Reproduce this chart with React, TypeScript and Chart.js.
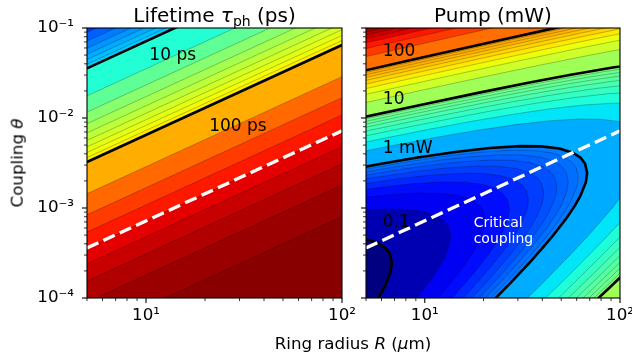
import React, { useEffect, useRef } from 'react';
import { Chart, registerables } from 'chart.js';

Chart.register(...registerables);

// ---------------- axes ----------------
const R_MIN = 5;
const R_MAX = 100;
const THETA_MIN = 1e-4;
const THETA_MAX = 0.1;
const radiusTicks = [5, 6, 7, 8, 9, 10, 20, 30, 40, 50, 60, 70, 80, 90, 100];
const couplingTicks = [
  1e-4, 2e-4, 3e-4, 4e-4, 5e-4, 6e-4, 7e-4, 8e-4, 9e-4,
  1e-3, 2e-3, 3e-3, 4e-3, 5e-3, 6e-3, 7e-3, 8e-3, 9e-3,
  1e-2, 2e-2, 3e-2, 4e-2, 5e-2, 6e-2, 7e-2, 8e-2, 9e-2, 0.1,
];

// ---------------- critical coupling (dashed line) ----------------
const criticalR = [5, 100];
const criticalTheta = [3.6e-4, 7.2e-3];

// ---------------- left panel: photon lifetime (ps) ----------------
const lifetimeLevels = [4, 5, 6, 7, 8, 9, 10, 20, 30, 40, 50, 60, 70, 80, 90, 100, 200, 300, 400, 500, 600, 700, 800, 900];
// coupling where each lifetime contour crosses R = 5 um and R = 100 um
const lifetimeThetaAtRMin = [8.964e-2, 7.164e-2, 5.964e-2, 5.107e-2, 4.464e-2, 3.964e-2, 3.564e-2, 1.764e-2, 1.164e-2, 8.64e-3, 6.84e-3, 5.64e-3, 4.78e-3, 4.14e-3, 3.64e-3, 3.24e-3, 1.44e-3, 8.4e-4, 5.4e-4, 3.6e-4, 2.4e-4, 1.54e-4, 9.0e-5, 4.0e-5];
const lifetimeThetaAtRMax = [1.793, 1.433, 1.193, 1.021, 0.8928, 0.7928, 0.7128, 0.3528, 0.2328, 0.1728, 0.1368, 0.1128, 0.0957, 0.0828, 0.0728, 0.0648, 0.0288, 0.0168, 0.0108, 7.2e-3, 4.8e-3, 3.09e-3, 1.8e-3, 8.0e-4];
const lifetimeLabeled = [10, 100];
const lifetimeBandFloor = 3;
const lifetimeBandCeil = 1000;
const lifetimeColorRange = [1, 1000];

// ---------------- right panel: pump power (mW) ----------------
const pumpLevels = [0.1, 0.2, 0.3, 0.4, 0.5, 0.6, 0.7, 0.8, 0.9, 1, 2, 3, 4, 5, 6, 7, 8, 9, 10, 20, 30, 40, 50, 60, 70, 80, 90, 100, 200, 300, 400, 500, 600, 700, 800];
// contour polylines [R (um), theta] for each level
const pumpContours01 = [
  [[4.895, 4.58e-4], [5.728, 4.122e-4], [6.285, 3.62e-4], [6.629, 3.102e-4], [6.788, 2.443e-4], [6.68, 1.923e-4], [6.256, 1.351e-4], [5.864, 1.055e-4], [5.302, 7.634e-5]],
  [[4.294, 9.274e-4], [6.152, 9.744e-4], [7.912, 9.684e-4], [9.79, 9.16e-4], [11.46, 8.244e-4], [12.57, 7.24e-4], [13.26, 6.204e-4], [13.58, 4.886e-4], [13.36, 3.846e-4], [12.51, 2.702e-4], [11.73, 2.11e-4], [10.6, 1.527e-4], [9.038, 9.762e-5]],
  [[4.398, 1.267e-3], [6.441, 1.391e-3], [9.228, 1.462e-3], [11.87, 1.453e-3], [14.69, 1.374e-3], [17.18, 1.237e-3], [18.86, 1.086e-3], [19.89, 9.306e-4], [20.36, 7.329e-4], [20.04, 5.769e-4], [18.77, 4.053e-4], [17.59, 3.165e-4], [15.91, 2.29e-4], [13.56, 1.464e-4], [12.06, 1.086e-4], [10.33, 7.434e-5]],
  [[3.671, 1.454e-3], [5.864, 1.689e-3], [8.588, 1.855e-3], [12.3, 1.949e-3], [15.82, 1.937e-3], [19.58, 1.832e-3], [22.91, 1.649e-3], [25.14, 1.448e-3], [26.52, 1.241e-3], [27.15, 9.772e-4], [26.72, 7.692e-4], [25.02, 5.404e-4], [23.46, 4.22e-4], [21.21, 3.054e-4], [18.08, 1.952e-4], [13.77, 9.912e-5], [11.07, 5.976e-5]],
  [[4.589, 1.817e-3], [7.33, 2.111e-3], [10.74, 2.319e-3], [15.38, 2.436e-3], [19.78, 2.421e-3], [24.48, 2.29e-3], [28.64, 2.061e-3], [31.43, 1.81e-3], [33.15, 1.551e-3], [33.94, 1.222e-3], [33.4, 9.615e-4], [31.28, 6.755e-4], [29.32, 5.275e-4], [26.51, 3.817e-4], [22.6, 2.441e-4], [17.21, 1.239e-4], [13.84, 7.47e-5]],
  [[3.358, 1.813e-3], [5.507, 2.18e-3], [8.796, 2.533e-3], [12.88, 2.782e-3], [18.46, 2.923e-3], [23.74, 2.905e-3], [29.37, 2.748e-3], [34.37, 2.473e-3], [37.71, 2.172e-3], [39.77, 1.861e-3], [40.73, 1.466e-3], [40.08, 1.154e-3], [37.54, 8.106e-4], [35.18, 6.33e-4], [31.81, 4.58e-4], [27.11, 2.929e-4], [20.65, 1.487e-4], [16.6, 8.964e-5]],
  [[3.918, 2.115e-3], [6.425, 2.544e-3], [10.26, 2.955e-3], [15.03, 3.246e-3], [21.53, 3.41e-3], [27.69, 3.389e-3], [34.27, 3.206e-3], [40.1, 2.885e-3], [44.0, 2.534e-3], [46.4, 2.171e-3], [47.52, 1.71e-3], [46.76, 1.346e-3], [43.79, 9.457e-4], [41.05, 7.385e-4], [37.11, 5.344e-4], [31.63, 3.417e-4], [24.09, 1.735e-4], [19.37, 1.046e-4], [13.85, 4.988e-5]],
  [[4.478, 2.418e-3], [7.342, 2.907e-3], [11.73, 3.378e-3], [17.18, 3.71e-3], [24.61, 3.898e-3], [31.65, 3.874e-3], [39.16, 3.664e-3], [45.82, 3.298e-3], [50.28, 2.896e-3], [53.03, 2.482e-3], [54.3, 1.954e-3], [53.44, 1.538e-3], [50.05, 1.081e-3], [46.91, 8.44e-4], [42.42, 6.107e-4], [36.15, 3.905e-4], [27.54, 1.982e-4], [22.14, 1.195e-4], [15.83, 5.701e-5]],
  [[3.098, 2.23e-3], [5.037, 2.72e-3], [8.26, 3.271e-3], [13.19, 3.8e-3], [19.32, 4.173e-3], [27.68, 4.385e-3], [35.6, 4.358e-3], [44.06, 4.122e-3], [51.55, 3.71e-3], [56.57, 3.258e-3], [59.66, 2.792e-3], [61.09, 2.199e-3], [60.12, 1.731e-3], [56.3, 1.216e-3], [52.78, 9.495e-4], [47.72, 6.871e-4], [40.67, 4.393e-4], [30.98, 2.23e-4], [24.9, 1.345e-4], [17.81, 6.413e-5]],
];
const pumpContours1 = [
  [[3.442, 2.478e-3], [5.597, 3.022e-3], [9.178, 3.634e-3], [14.66, 4.222e-3], [21.47, 4.637e-3], [30.76, 4.872e-3], [39.56, 4.842e-3], [48.95, 4.58e-3], [57.28, 4.122e-3], [62.85, 3.62e-3], [66.29, 3.102e-3], [67.88, 2.443e-3], [66.8, 1.923e-3], [62.56, 1.351e-3], [58.64, 1.055e-3], [53.02, 7.634e-4], [45.19, 4.881e-4], [40.2, 3.62e-4], [34.42, 2.478e-4], [27.67, 1.494e-4], [19.79, 7.126e-5]],
  [[3.8, 3.83e-3], [6.884, 4.956e-3], [11.19, 6.044e-3], [18.36, 7.268e-3], [29.32, 8.444e-3], [42.94, 9.274e-3], [61.52, 9.744e-3], [79.12, 9.684e-3], [97.9, 9.16e-3], [114.6, 8.244e-3], [135.8, 4.886e-3], [106, 1.527e-3], [90.38, 9.762e-4], [68.84, 4.956e-4], [55.34, 2.988e-4], [39.58, 1.425e-4], [28.94, 7.29e-5]],
  [[2.969, 4.275e-3], [5.7, 5.745e-3], [10.33, 7.434e-3], [16.79, 9.066e-3], [27.53, 1.09e-2], [43.98, 1.267e-2], [64.41, 1.391e-2], [92.28, 1.462e-2], [118.7, 1.453e-2], [203.6, 7.329e-3], [135.6, 1.464e-3], [103.3, 7.434e-4], [83.01, 4.482e-4], [59.37, 2.138e-4], [43.41, 1.094e-4], [37.74, 8.148e-5]],
  [[3.958, 5.7e-3], [7.6, 7.66e-3], [13.77, 9.912e-3], [22.39, 1.209e-2], [36.71, 1.454e-2], [58.64, 1.689e-2], [85.88, 1.855e-2], [123, 1.949e-2], [271.5, 9.772e-3], [137.7, 9.912e-4], [110.7, 5.976e-4], [79.16, 2.85e-4], [57.88, 1.458e-4], [50.32, 1.086e-4], [34.54, 4.972e-5]],
  [[2.306, 4.98e-3], [4.948, 7.125e-3], [9.5, 9.575e-3], [17.21, 1.239e-2], [27.99, 1.511e-2], [45.89, 1.817e-2], [73.3, 2.111e-2], [107.4, 2.319e-2], [339.4, 1.222e-2], [138.4, 7.47e-4], [98.95, 3.563e-4], [72.35, 1.823e-4], [62.9, 1.358e-4], [43.18, 6.215e-5]],
  [[2.767, 5.977e-3], [5.937, 8.55e-3], [11.4, 1.149e-2], [20.65, 1.487e-2], [33.58, 1.813e-2], [55.07, 2.18e-2], [87.96, 2.533e-2], [128.8, 2.782e-2], [407.3, 1.466e-2], [166, 8.964e-4], [118.7, 4.276e-4], [86.82, 2.187e-4], [75.48, 1.63e-4], [51.81, 7.458e-5]],
  [[3.228, 6.973e-3], [6.927, 9.975e-3], [13.3, 1.341e-2], [24.09, 1.735e-2], [39.18, 2.115e-2], [64.25, 2.544e-2], [102.6, 2.955e-2], [475.2, 1.71e-2], [138.5, 4.988e-4], [101.3, 2.552e-4], [88.06, 1.901e-4], [74.41, 1.339e-4], [60.45, 8.701e-5]],
  [[3.69, 7.969e-3], [7.916, 1.14e-2], [15.2, 1.532e-2], [27.54, 1.982e-2], [44.78, 2.418e-2], [73.42, 2.907e-2], [117.3, 3.378e-2], [543, 1.954e-2], [158.3, 5.701e-4], [115.8, 2.916e-4], [100.6, 2.173e-4], [85.04, 1.53e-4], [69.08, 9.944e-5], [35.57, 2.561e-5]],
  [[4.151, 8.965e-3], [8.906, 1.283e-2], [17.1, 1.724e-2], [30.98, 2.23e-2], [50.37, 2.72e-2], [82.6, 3.271e-2], [131.9, 3.8e-2], [610.9, 2.199e-2], [130.2, 3.281e-4], [113.2, 2.444e-4], [95.67, 1.722e-4], [77.72, 1.119e-4], [40.01, 2.881e-5]],
];
const pumpContours10 = [
  [[4.612, 9.961e-3], [9.895, 1.425e-2], [19, 1.915e-2], [34.42, 2.478e-2], [55.97, 3.022e-2], [91.78, 3.634e-2], [146.6, 4.222e-2], [678.8, 2.443e-2], [144.7, 3.645e-4], [106.3, 1.913e-4], [86.35, 1.243e-4], [44.46, 3.201e-5]],
  [[4.236, 1.372e-2], [9.224, 1.992e-2], [19.79, 2.85e-2], [38, 3.83e-2], [68.84, 4.956e-2], [111.9, 6.044e-2]],
  [[2.687, 1.355e-2], [6.354, 2.059e-2], [13.84, 2.988e-2], [29.69, 4.275e-2], [57, 5.745e-2], [103.3, 7.434e-2]],
  [[3.582, 1.806e-2], [8.472, 2.745e-2], [18.45, 3.984e-2], [39.58, 5.7e-2], [76, 7.66e-2], [137.7, 9.912e-2]],
  [[4.478, 2.258e-2], [10.59, 3.431e-2], [23.06, 4.981e-2], [49.48, 7.125e-2], [95, 9.575e-2], [172.1, 0.1239]],
  [[2.668, 1.921e-2], [5.374, 2.709e-2], [12.71, 4.117e-2], [27.67, 5.977e-2], [59.37, 8.55e-2], [114, 0.1149]],
  [[3.112, 2.241e-2], [6.269, 3.161e-2], [14.83, 4.803e-2], [32.28, 6.973e-2], [69.27, 9.975e-2], [133, 0.1341]],
  [[3.557, 2.561e-2], [7.165, 3.612e-2], [16.94, 5.49e-2], [36.9, 7.969e-2], [79.16, 0.114]],
  [[4.001, 2.881e-2], [8.06, 4.064e-2], [19.06, 6.176e-2], [41.51, 8.965e-2], [89.06, 0.1283]],
];
const pumpContours100 = [
  [[4.446, 3.201e-2], [8.956, 4.515e-2], [21.18, 6.862e-2], [46.12, 9.961e-2], [98.95, 0.1425]],
  [[3.99, 4.312e-2], [8.892, 6.402e-2], [17.91, 9.03e-2], [42.36, 0.1372]],
  [[2.173, 3.909e-2], [5.985, 6.468e-2], [13.34, 9.603e-2], [26.87, 0.1355]],
  [[2.897, 5.212e-2], [7.98, 8.624e-2], [17.78, 0.128]],
  [[3.622, 6.515e-2], [5.64, 8.12e-2], [9.975, 0.1078]],
  [[4.346, 7.818e-2], [6.768, 9.744e-2], [11.97, 0.1294]],
  [[1.99, 5.73e-2], [5.07, 9.121e-2], [7.896, 0.1137]],
  [[2.274, 6.549e-2], [5.794, 0.1042]],
];
const pumpLabeled = [0.1, 1, 10, 100];
const pumpBandFloor = 0.01;
const pumpBandCeil = 900;
const pumpColorRange = [0.1, 1000];

// ---------------- text annotations ----------------
const lifetimeLabelText = ['10 ps', '100 ps'];
const lifetimeLabelR = [10.4, 21.0];
const lifetimeLabelTheta = [0.0489, 8.05e-3];
const pumpLabelText = ['100', '10', '1 mW', '0.1'];
const pumpLabelR = [6.1, 6.1, 6.1, 6.1];
const pumpLabelTheta = [0.0541, 0.01585, 4.53e-3, 6.81e-4];
const criticalLabelText = ['Critical', 'coupling'];
const criticalLabelR = [17.8, 17.8];
const criticalLabelTheta = [6.81e-4, 4.53e-4];

// ---------------- styling helpers ----------------
const FONT = 'DejaVu Sans';
const THIN_LINE = 'rgba(0,0,0,0.3)';
const SUP: Record<string, string> = { '-': '⁻', '0': '⁰', '1': '¹', '2': '²', '3': '³', '4': '⁴', '5': '⁵', '6': '⁶', '7': '⁷', '8': '⁸', '9': '⁹' };
const JET_R = [[0, 0], [0.35, 0], [0.66, 1], [0.89, 1], [1, 0.5]];
const JET_G = [[0, 0], [0.125, 0], [0.375, 1], [0.64, 1], [0.91, 0], [1, 0]];
const JET_B = [[0, 0.5], [0.11, 1], [0.34, 1], [0.65, 0], [1, 0]];

function seg(pts: number[][], t: number) {
  for (let i = 1; i < pts.length; i++) {
    if (t <= pts[i][0]) {
      const [x0, y0] = pts[i - 1];
      const [x1, y1] = pts[i];
      return y0 + ((y1 - y0) * (t - x0)) / (x1 - x0);
    }
  }
  return pts[pts.length - 1][1];
}
function jet(t: number) {
  const c = Math.min(1, Math.max(0, t));
  const r = Math.round(seg(JET_R, c) * 255);
  const g = Math.round(seg(JET_G, c) * 255);
  const b = Math.round(seg(JET_B, c) * 255);
  return `rgb(${r},${g},${b})`;
}
function bandColor(lo: number, hi: number, range: number[]) {
  const mid = (lo + hi) / 2;
  const t = (Math.log10(mid) - Math.log10(range[0])) / (Math.log10(range[1]) - Math.log10(range[0]));
  return jet(t);
}
function isDecade(v: number) {
  const e = Math.log10(v);
  return Math.abs(e - Math.round(e)) < 1e-6;
}
function decadeLabel(v: number) {
  if (!isDecade(v)) return '';
  const e = Math.round(Math.log10(v));
  return '10' + String(e).split('').map((c) => SUP[c] || c).join('');
}
function lineDataset(points: number[][], opts: any) {
  return {
    data: points.map(([x, y]) => ({ x, y })),
    pointRadius: 0,
    pointHoverRadius: 0,
    tension: 0,
    clip: 0,
    ...opts,
  };
}
function closeRegion(line: number[][]) {
  const [lr, lt] = line[line.length - 1];
  let corners: number[][];
  if (lt > THETA_MAX) corners = [[R_MAX, THETA_MAX], [R_MAX, THETA_MIN], [R_MIN, THETA_MIN]];
  else if (lr > R_MAX) corners = [[R_MAX, THETA_MIN], [R_MIN, THETA_MIN]];
  else corners = [[R_MIN, THETA_MIN]];
  return [...line, ...corners];
}
function criticalDataset() {
  return lineDataset(criticalR.map((r, i) => [r, criticalTheta[i]]), {
    fill: false,
    borderColor: '#ffffff',
    borderWidth: 3.3,
    borderDash: [12.5, 5.5],
    borderCapStyle: 'butt',
  });
}
function withOrder(ds: any[]) {
  ds.forEach((d, i) => (d.order = ds.length - i));
  return ds;
}

function buildLeftDatasets() {
  const ds: any[] = [];
  const lines = lifetimeLevels.map((_, i) => [[R_MIN, lifetimeThetaAtRMin[i]], [R_MAX, lifetimeThetaAtRMax[i]]]);
  for (let i = lifetimeLevels.length - 1; i >= 0; i--) {
    const lo = i > 0 ? lifetimeLevels[i - 1] : lifetimeBandFloor;
    ds.push(lineDataset([...lines[i], [R_MAX, THETA_MAX], [R_MIN, THETA_MAX]], {
      fill: 'shape', backgroundColor: bandColor(lo, lifetimeLevels[i], lifetimeColorRange), borderWidth: 0, borderColor: 'rgba(0,0,0,0)',
    }));
  }
  lines.forEach((line, i) => {
    if (!lifetimeLabeled.includes(lifetimeLevels[i])) ds.push(lineDataset(line, { fill: false, borderColor: THIN_LINE, borderWidth: 0.8 }));
  });
  lines.forEach((line, i) => {
    if (lifetimeLabeled.includes(lifetimeLevels[i])) ds.push(lineDataset(line, { fill: false, borderColor: '#000', borderWidth: 2.6 }));
  });
  ds.push(criticalDataset());
  return withOrder(ds);
}

function buildRightDatasets() {
  const ds: any[] = [];
  const contours = [...pumpContours01, ...pumpContours1, ...pumpContours10, ...pumpContours100];
  for (let i = pumpLevels.length - 1; i >= 0; i--) {
    const lo = i > 0 ? pumpLevels[i - 1] : pumpBandFloor;
    ds.push(lineDataset(closeRegion(contours[i]), {
      fill: 'shape', backgroundColor: bandColor(lo, pumpLevels[i], pumpColorRange), borderWidth: 0, borderColor: 'rgba(0,0,0,0)',
    }));
  }
  contours.forEach((line, i) => {
    if (!pumpLabeled.includes(pumpLevels[i])) ds.push(lineDataset(line, { fill: false, borderColor: THIN_LINE, borderWidth: 0.8 }));
  });
  contours.forEach((line, i) => {
    if (pumpLabeled.includes(pumpLevels[i])) ds.push(lineDataset(line, { fill: false, borderColor: '#000', borderWidth: 2.6 }));
  });
  ds.push(criticalDataset());
  return withOrder(ds);
}

function axisConfig(kind: string, showLabels: boolean, size: number) {
  const isX = kind === 'x';
  return {
    type: 'logarithmic',
    position: isX ? 'bottom' : 'left',
    min: isX ? R_MIN : THETA_MIN,
    max: isX ? R_MAX : THETA_MAX,
    bounds: 'data',
    afterBuildTicks: (s: any) => {
      s.ticks = (isX ? radiusTicks : couplingTicks).map((v) => ({ value: v }));
    },
    afterFit: (s: any) => {
      if (isX) s.height = size;
      else s.width = size;
      s.paddingLeft = 0;
      s.paddingRight = 0;
      s.paddingTop = 0;
      s.paddingBottom = 0;
    },
    ticks: {
      display: showLabels,
      autoSkip: false,
      maxRotation: 0,
      minRotation: 0,
      padding: isX ? 3 : 8,
      color: '#000',
      font: { family: FONT, size: 16.7 },
      callback: (v: any) => decadeLabel(Number(v)),
    },
    grid: { display: true, drawOnChartArea: false, drawTicks: true, tickLength: 5, color: 'rgba(0,0,0,0)', tickColor: 'rgba(0,0,0,0)' },
    border: { display: false },
  };
}

function panelPlugin(bg: string, labels: { text: string; R: number; theta: number; color: string; size: number }[]) {
  return {
    id: 'panelDecor',
    beforeDatasetsDraw(chart: any) {
      const { ctx, chartArea: a } = chart;
      ctx.save();
      ctx.fillStyle = bg;
      ctx.fillRect(a.left, a.top, a.right - a.left, a.bottom - a.top);
      ctx.restore();
    },
    afterDatasetsDraw(chart: any) {
      const { ctx, chartArea: a } = chart;
      const xs = chart.scales.x;
      const ys = chart.scales.y;
      ctx.save();
      ctx.beginPath();
      ctx.rect(a.left, a.top, a.right - a.left, a.bottom - a.top);
      ctx.clip();
      ctx.textAlign = 'left';
      ctx.textBaseline = 'middle';
      for (const l of labels) {
        ctx.font = `${l.size}px "${FONT}"`;
        ctx.fillStyle = l.color;
        ctx.fillText(l.text, xs.getPixelForValue(l.R), ys.getPixelForValue(l.theta));
      }
      ctx.restore();
    },
    afterDraw(chart: any) {
      const { ctx, chartArea: a } = chart;
      const xs = chart.scales.x;
      const ys = chart.scales.y;
      ctx.save();
      ctx.strokeStyle = '#000';
      for (const t of xs.ticks) {
        const p = xs.getPixelForValue(t.value);
        const major = isDecade(t.value);
        ctx.lineWidth = major ? 1.1 : 0.8;
        ctx.beginPath();
        ctx.moveTo(p, a.bottom);
        ctx.lineTo(p, a.bottom + (major ? 5 : 3));
        ctx.stroke();
      }
      for (const t of ys.ticks) {
        const p = ys.getPixelForValue(t.value);
        const major = isDecade(t.value);
        ctx.lineWidth = major ? 1.1 : 0.8;
        ctx.beginPath();
        ctx.moveTo(a.left, p);
        ctx.lineTo(a.left - (major ? 5 : 3), p);
        ctx.stroke();
      }
      ctx.lineWidth = 1.1;
      ctx.strokeRect(a.left, a.top, a.right - a.left, a.bottom - a.top);
      ctx.restore();
    },
  };
}

function makeConfig(datasets: any[], showY: boolean, yWidth: number, padRight: number, plugin: any) {
  return {
    type: 'line',
    data: { datasets },
    options: {
      animation: false,
      responsive: false,
      maintainAspectRatio: false,
      devicePixelRatio: 1,
      events: [],
      layout: { padding: { top: 28, right: padRight, bottom: 0, left: 0 } },
      plugins: { legend: { display: false }, tooltip: { enabled: false }, title: { display: false } },
      scales: { x: axisConfig('x', true, 62), y: axisConfig('y', showY, yWidth) },
    },
    plugins: [plugin],
  };
}

export default function App() {
  const leftRef = useRef<HTMLCanvasElement>(null);
  const rightRef = useRef<HTMLCanvasElement>(null);

  useEffect(() => {
    const leftLabels = lifetimeLabelText.map((text, i) => ({ text, R: lifetimeLabelR[i], theta: lifetimeLabelTheta[i], color: '#000', size: 17 }));
    const rightLabels = [
      ...pumpLabelText.map((text, i) => ({ text, R: pumpLabelR[i], theta: pumpLabelTheta[i], color: '#000', size: 17 })),
      ...criticalLabelText.map((text, i) => ({ text, R: criticalLabelR[i], theta: criticalLabelTheta[i], color: '#fff', size: 14 })),
    ];
    const leftBg = bandColor(lifetimeLevels[lifetimeLevels.length - 1], lifetimeBandCeil, lifetimeColorRange);
    const rightBg = bandColor(pumpLevels[pumpLevels.length - 1], pumpBandCeil, pumpColorRange);
    const left = new Chart(leftRef.current as any, makeConfig(buildLeftDatasets(), true, 87, 20, panelPlugin(leftBg, leftLabels)) as any);
    const right = new Chart(rightRef.current as any, makeConfig(buildRightDatasets(), false, 20, 12, panelPlugin(rightBg, rightLabels)) as any);
    return () => {
      left.destroy();
      right.destroy();
    };
  }, []);

  const txt: any = { position: 'absolute', fontFamily: FONT, color: '#000', whiteSpace: 'nowrap', lineHeight: 1, fontWeight: 'normal' };
  return (
    <div style={{ position: 'absolute', left: 0, top: 0, width: 632, height: 360, background: '#fff', overflow: 'hidden' }}>
      <canvas ref={leftRef} width={362} height={360} style={{ position: 'absolute', left: 0, top: 0, width: 362, height: 360 }} />
      <canvas ref={rightRef} width={286} height={360} style={{ position: 'absolute', left: 346, top: 0, width: 286, height: 360 }} />
      <div style={{ ...txt, left: 214.5, top: 5, fontSize: 20, transform: 'translateX(-50%)' }}>
        Lifetime <i>τ</i><span style={{ fontSize: 14, position: 'relative', top: 4 }}>ph</span> (ps)
      </div>
      <div style={{ ...txt, left: 493, top: 5, fontSize: 20, transform: 'translateX(-50%)' }}>Pump (mW)</div>
      <div style={{ ...txt, left: 17, top: 163, fontSize: 16.7, transform: 'translate(-50%, -50%) rotate(-90deg)' }}>
        Coupling <i>θ</i>
      </div>
      <div style={{ ...txt, left: 353, top: 335, fontSize: 16.7, transform: 'translateX(-50%)' }}>
        Ring radius <i>R</i> (<i>μ</i>m)
      </div>
    </div>
  );
}
